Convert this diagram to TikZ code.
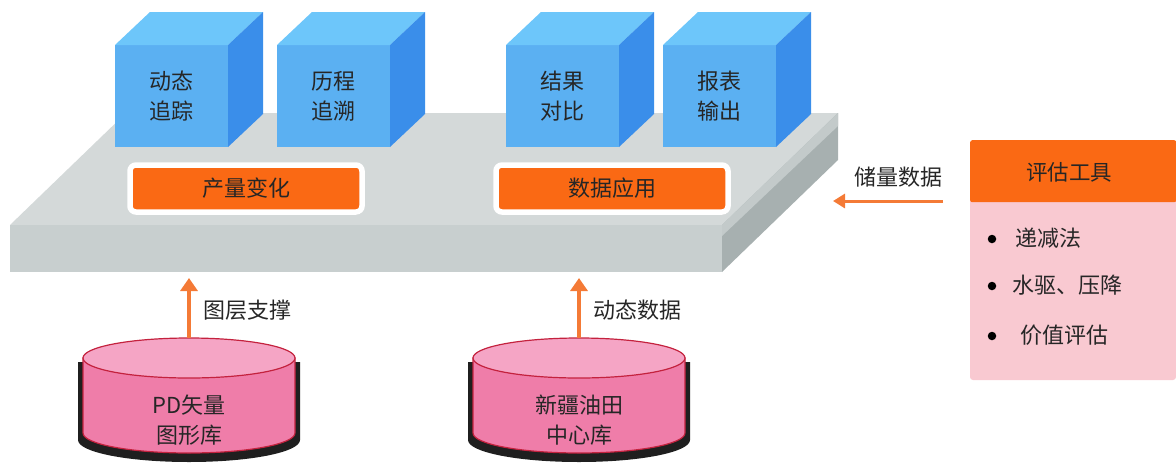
\documentclass[tikz,border=0pt]{standalone}
\usepackage{fontspec}
\newfontfamily\cjk{Noto Sans CJK SC}
\usetikzlibrary{arrows.meta,shadows}

\definecolor{platTop}{HTML}{D4D9D9}
\definecolor{platFront}{HTML}{C8CFCF}
\definecolor{platSide}{HTML}{A7B0B0}
\definecolor{platRim}{HTML}{C3CACA}
\definecolor{cubeFront}{HTML}{5BB0F2}
\definecolor{cubeTop}{HTML}{6DC6FA}
\definecolor{cubeSide}{HTML}{3A8EEA}
\definecolor{barOrange}{HTML}{FA6914}
\definecolor{flowOrange}{HTML}{F47A36}
\definecolor{dbBody}{HTML}{EF7DA9}
\definecolor{dbTop}{HTML}{F5A5C5}
\definecolor{dbEdge}{HTML}{C4223E}
\definecolor{toolBody}{HTML}{F9C9D1}
\definecolor{ink}{HTML}{262626}

\tikzset{
  cubetext/.style={font=\cjk\fontsize{22}{30}\selectfont, text=ink, align=center, inner sep=0pt},
  barnode/.style={draw=white, line width=5.5pt, fill=barOrange, rounded corners=6pt,
    minimum width=232pt, minimum height=47pt, inner sep=0pt,
    font=\cjk\fontsize{22}{24}\selectfont, text=ink,
    drop shadow={shadow xshift=1pt, shadow yshift=-2.5pt, opacity=0.35, fill=black!60}},
  label/.style={font=\cjk\fontsize{22}{24}\selectfont, text=ink, inner sep=0pt},
  item/.style={font=\cjk\fontsize{22}{24}\selectfont, text=ink, inner sep=0pt, anchor=west},
  dot/.style={circle, fill=black, minimum size=8.5pt, inner sep=0pt},
  flow/.style={draw=flowOrange, line width=4pt, -{Triangle[length=13pt,width=17pt]}},
  sideflow/.style={draw=flowOrange, line width=3pt, -{Triangle[length=12pt,width=14pt]}},
}

% one blue block: #1 left edge of the front face, #2 node name, #3 text
\newcommand\blockcube[3]{%
  \begin{scope}[xshift=#1pt]
    \fill[cubeFront] (0,45) rectangle (113,147);
    \fill[cubeTop] (0,45) -- (35,12) -- (148,12) -- (113,45) -- cycle;
    \fill[cubeSide] (113,45) -- (148,12) -- (148,114) -- (113,147) -- cycle;
    \node[cubetext] (#2) at (56.5,96) {#3};
  \end{scope}}

% one database drum: #1 centre x, #2 node name, #3 text
\newcommand\dbdrum[3]{%
  \begin{scope}[xshift=#1pt]
    \fill[black!88] (-111,362) -- (-111,440)
      arc[start angle=180, end angle=360, x radius=111pt, y radius=22pt]
      -- (111,362) -- cycle;
    \filldraw[fill=dbBody, draw=dbEdge, line width=1.2pt] (-106,358) -- (-106,433)
      arc[start angle=180, end angle=360, x radius=106pt, y radius=20pt]
      -- (106,358) -- cycle;
    \filldraw[fill=dbTop, draw=dbEdge, line width=1.2pt] (0,358)
      ellipse[x radius=106pt, y radius=20pt];
    \node[cubetext] (#2) at (0,420) {#3};
  \end{scope}}

\begin{document}
\begin{tikzpicture}[x=1pt, y=-1pt]
\useasboundingbox (0,0) rectangle (1176,467);

% platform slab
\fill[platTop] (10,225) -- (126,113) -- (838,113) -- (722,225) -- cycle;
\fill[platFront] (10,225) rectangle (722,272);
\fill[platSide] (722,225) -- (838,113) -- (838,160) -- (722,272) -- cycle;
\fill[platRim] (722,225) -- (838,113) -- (838,126) -- (722,236) -- cycle;

% blocks on the slab
\blockcube{115}{c1}{动态\\追踪}
\blockcube{277}{c2}{历程\\追溯}
\blockcube{506}{c3}{结果\\对比}
\blockcube{663}{c4}{报表\\输出}

% orange bars
\node[barnode] (bar1) at (246,188.5) {产量变化};
\node[barnode] (bar2) at (612,188.5) {数据应用};

% databases
\dbdrum{189}{db1}{PD矢量\\图形库}
\dbdrum{579}{db2}{新疆油田\\中心库}

% arrow ends
\coordinate (db1top) at (189,338);
\coordinate (in1) at (189,278);
\coordinate (db2top) at (579,338);
\coordinate (in2) at (579,278);
\coordinate (toolout) at (943,201);
\coordinate (in3) at (833,201);

\draw[flow] (db1top) -- (in1);
\draw[flow] (db2top) -- (in2);
\node[label, anchor=west] (l1) at (203,310) {图层支撑};
\node[label, anchor=west] (l2) at (593,310) {动态数据};

% evaluation tools panel
\fill[toolBody, rounded corners=3pt] (970,196) rectangle (1176,380);
\node[fill=barOrange, minimum width=206pt, minimum height=62pt, anchor=north west,
  inner sep=0pt, rounded corners=2pt] (tool) at (970,140) {};
\node[label, font=\cjk\fontsize{21.5}{24}\selectfont] (toolname) at (1069,172) {评估工具};

\node[dot] (b1) at (992,239) {};
\node[dot] (b2) at (992,286) {};
\node[dot] (b3) at (992,336) {};
\node[item] (i1) at (1015,238) {递减法};
\node[item] (i2) at (1012,285) {水驱、压降};
\node[item] (i3) at (1020,335) {价值评估};

\draw[sideflow] (toolout) -- (in3);
\node[label] (l3) at (898,177) {储量数据};
\end{tikzpicture}
\end{document}
